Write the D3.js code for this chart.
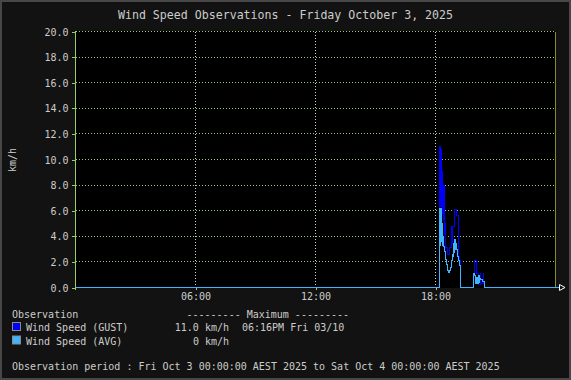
<!DOCTYPE html>
<html>
<head>
<meta charset="utf-8">
<script src="https://cdn.jsdelivr.net/npm/d3@7"></script>
<style>
  html, body { margin: 0; padding: 0; background: #121212; }
  svg { display: block; }
  text { font-family: "DejaVu Sans Mono", "Liberation Mono", monospace; fill: #cccccc; }
</style>
</head>
<body>
<svg id="chart" width="571" height="380"></svg>
<script>
// ---- data ----
const title = "Wind Speed Observations - Friday October 3, 2025";
const yLabel = "km/h";
const yTicks = [0, 2, 4, 6, 8, 10, 12, 14, 16, 18, 20];
const xTickTimes = ["06:00", "12:00", "18:00"];
const seriesNames = ["Wind Speed (GUST)", "Wind Speed (AVG)"];
const seriesMaxText = ["11.0 km/h", "0 km/h"];
const seriesMaxWhen = ["06:16PM Fri 03/10", ""];
const periodText = "Observation period : Fri Oct 3 00:00:00 AEST 2025 to Sat Oct 4 00:00:00 AEST 2025";

const gustTimes = ["00:00",
  "18:13","18:14","18:15","18:16","18:17","18:18",
  "18:19","18:20","18:21","18:22",
  "18:23","18:24","18:25","18:26","18:27","18:28",
  "18:29","18:30",
  "18:31","18:34","18:37","18:40","18:43","18:46",
  "18:49","18:51","18:52",
  "18:56","19:04","19:09","19:10","19:11",
  "19:15",
  "19:55","19:57","20:03","20:08","20:09","20:14","20:15","20:24","20:25","20:27",
  "24:00"];
const gustValues = [0,
  11.0,6.5,11.0,6.3,10.8,6.4,
  9.1,6.0,9.1,5.8,
  8.0,5.2,8.0,4.6,7.8,4.2,
  5.0,3.6,
  3.1,3.1,2.6,2.6,3.1,3.1,
  4.8,3.4,4.8,
  6.1,5.6,4.5,2.4,2.1,
  0,
  1.1,2.1,1.1,1.1,0.2,1.1,0.3,1.1,0.3,0,
  0];

const avgTimes = ["00:00",
  "18:11","18:12","18:13","18:14","18:15","18:16","18:17","18:18",
  "18:19","18:20","18:21","18:22",
  "18:23","18:24","18:26","18:28","18:29","18:31","18:33","18:35","18:37","18:40","18:43","18:45","18:47","18:49","18:51",
  "18:53","18:54","18:55","18:56","18:57","18:58","18:59","19:01","19:03","19:05","19:07","19:09","19:11","19:13","19:15",
  "19:55","19:58","19:59","20:01","20:03","20:05","20:07","20:09","20:11","20:13","20:16","20:20","20:25","20:27",
  "24:00"];
const avgValues = [0,
  3.2,6.2,3.4,6.2,3.3,6.2,3.6,5.8,
  4.8,3.4,5.0,3.3,
  4.0,3.2,3.2,2.8,2.5,2.2,1.8,1.5,1.3,1.2,1.3,1.6,1.8,2.1,2.6,
  3.1,2.4,3.4,2.7,3.75,3.0,3.75,3.4,3.0,2.7,2.4,2.1,1.8,1.7,0,
  1.1,0.9,0.5,0.3,0.8,0.4,0.3,0.9,0.4,0.7,0.6,0.5,0.5,0,
  0];

// ---- helpers ----
const toMin = s => { const [h, m] = s.split(":").map(Number); return h * 60 + m; };
const gust = gustTimes.map((t, i) => ({ t: toMin(t), v: gustValues[i] }));
const avg = avgTimes.map((t, i) => ({ t: toMin(t), v: avgValues[i] }));

const W = 571, H = 380;
const svg = d3.select("#chart");

// background + frame
svg.append("rect").attr("x", 0).attr("y", 0).attr("width", W).attr("height", H).attr("fill", "#121212");
svg.append("rect").attr("x", 1).attr("y", 1).attr("width", W - 2).attr("height", H - 2)
  .attr("fill", "none").attr("stroke", "#474747").attr("stroke-width", 2);

const x = d3.scaleLinear().domain([0, 1440]).range([75.5, 555.5]);
const y = d3.scaleLinear().domain([0, 20]).range([287.5, 31.5]);

// plot area
svg.append("rect").attr("x", 75).attr("y", 31).attr("width", 481).attr("height", 257).attr("fill", "#000");

// horizontal grid
svg.append("g").selectAll("line").data(yTicks.filter(d => d > 0)).join("line")
  .attr("x1", 75.5).attr("x2", 555.5)
  .attr("y1", d => y(d)).attr("y2", d => y(d))
  .attr("stroke", "#9cc97a").attr("stroke-dasharray", "1,2").attr("shape-rendering", "crispEdges");

// vertical grid
svg.append("g").selectAll("line").data(xTickTimes).join("line")
  .attr("x1", d => x(toMin(d))).attr("x2", d => x(toMin(d)))
  .attr("y1", 31.5).attr("y2", 287.5)
  .attr("stroke", "#c8d4bc").attr("stroke-dasharray", "1,2").attr("shape-rendering", "crispEdges");

// right border line
svg.append("line").attr("x1", 555.5).attr("x2", 555.5).attr("y1", 31.5).attr("y2", 287.5)
  .attr("stroke", "#8a8a2a").attr("shape-rendering", "crispEdges");

// y axis
const yAxis = d3.axisLeft(y).tickValues(yTicks).tickFormat(d3.format(".1f")).tickSize(4).tickPadding(3);
const gy = svg.append("g").attr("transform", "translate(75.5,0)").call(yAxis);
gy.select(".domain").remove();
gy.selectAll(".tick line").attr("stroke", "#99cc66").attr("shape-rendering", "crispEdges");
gy.selectAll(".tick text").attr("font-size", "10px").attr("fill", "#cccccc")
  .attr("font-family", "DejaVu Sans Mono, monospace").attr("dy", "0.35em");
svg.append("line").attr("x1", 75.5).attr("x2", 75.5).attr("y1", 31).attr("y2", 290)
  .attr("stroke", "#99cc66").attr("shape-rendering", "crispEdges");

// x axis
const xAxis = d3.axisBottom(x).tickValues(xTickTimes.map(toMin))
  .tickFormat((d, i) => xTickTimes[i]).tickSize(2).tickPadding(3);
const gx = svg.append("g").attr("transform", "translate(0,287.5)").call(xAxis);
gx.select(".domain").remove();
gx.selectAll(".tick line").attr("stroke", "#99cc66").attr("shape-rendering", "crispEdges");
gx.selectAll(".tick text").attr("font-size", "10px").attr("fill", "#cccccc")
  .attr("font-family", "DejaVu Sans Mono, monospace").attr("y", 12).attr("dy", 0);

// series lines
const line = d3.line().x(d => x(d.t)).y(d => y(d.v)).curve(d3.curveStepAfter);
svg.append("path").datum(gust).attr("d", line).attr("fill", "none")
  .attr("stroke", "#0000ff").attr("stroke-width", 1).attr("shape-rendering", "crispEdges");
svg.append("path").datum(avg).attr("d", line).attr("fill", "none")
  .attr("stroke", "#3cb4ff").attr("stroke-width", 1).attr("shape-rendering", "crispEdges");

// x axis line + arrow
svg.append("line").attr("x1", 555.5).attr("x2", 559).attr("y1", 287.5).attr("y2", 287.5)
  .attr("stroke", "#3cb4ff").attr("shape-rendering", "crispEdges");
svg.append("path").attr("d", "M559.5,284.5 L565,287.5 L559.5,290.5 Z")
  .attr("fill", "none").attr("stroke", "#ffffff").attr("stroke-width", 1);

// title
svg.append("text").attr("x", W / 2).attr("y", 19).attr("text-anchor", "middle")
  .attr("font-size", "11.6px").attr("fill", "#d4d4d4").text(title);

// y label
svg.append("text").attr("transform", "translate(16,160) rotate(-90)").attr("text-anchor", "middle")
  .attr("font-size", "10px").text(yLabel);

// legend
svg.append("text").attr("x", 12).attr("y", 318).attr("font-size", "10px").text("Observation");
svg.append("text").attr("x", 186.5).attr("y", 318).attr("font-size", "10px").attr("xml:space", "preserve")
  .text("--------- Maximum ---------");
const colors = ["#0000ff", "#3cb4ff"];
const rowY = [331, 344.5];
seriesNames.forEach((name, i) => {
  svg.append("rect").attr("x", 12.5).attr("y", rowY[i] - 8.5).attr("width", 8).attr("height", 8)
    .attr("fill", colors[i]).attr("stroke", "#8a8a8a").attr("stroke-width", 1);
  svg.append("text").attr("x", 26).attr("y", rowY[i]).attr("font-size", "10px").text(name);
  svg.append("text").attr("x", 229).attr("y", rowY[i]).attr("text-anchor", "end").attr("font-size", "10px")
    .text(seriesMaxText[i]);
  if (seriesMaxWhen[i]) {
    svg.append("text").attr("x", 242).attr("y", rowY[i]).attr("font-size", "10px").text(seriesMaxWhen[i]);
  }
});
svg.append("text").attr("x", 12).attr("y", 370).attr("font-size", "10px").text(periodText);
</script>
</body>
</html>
